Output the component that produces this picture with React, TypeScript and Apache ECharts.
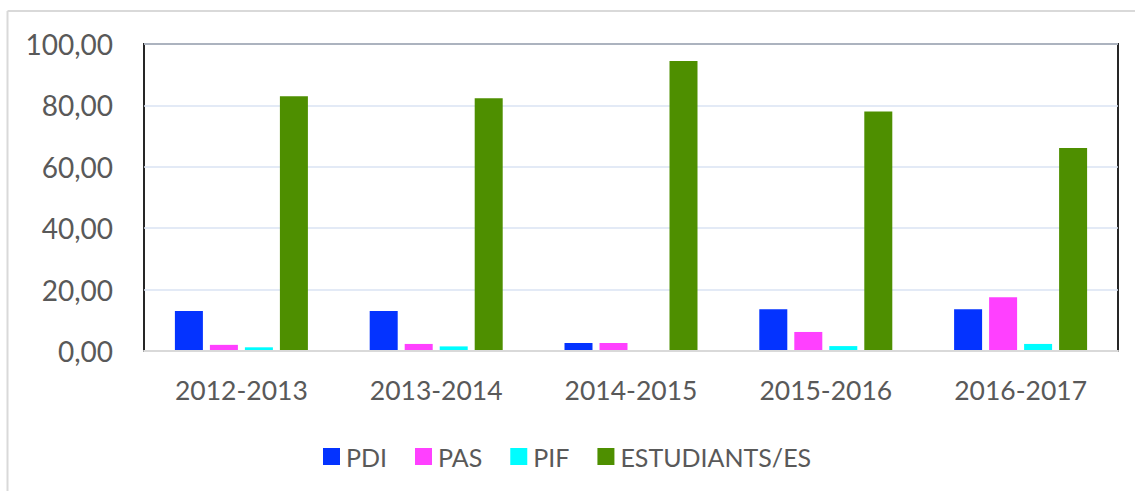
import React, { useEffect, useRef } from "react";
import * as echarts from "echarts";

const categories = ["2012-2013", "2013-2014", "2014-2015", "2015-2016", "2016-2017"];
const seriesNames = ["PDI", "PAS", "PIF", "ESTUDIANTS/ES"];
const pdi = [13.0, 13.0, 2.6, 13.6, 13.6];
const pas = [2.0, 2.3, 2.6, 6.2, 17.5];
const pif = [1.2, 1.5, 0, 1.6, 2.3];
const estudiants = [83.0, 82.3, 94.5, 78.0, 66.1];
const colors = ["#0433FF", "#FF40FF", "#00FDFF", "#4E8F00"];

const FONT = "Lato";

export default function App() {
  const ref = useRef<HTMLDivElement>(null);
  useEffect(() => {
    const chart = echarts.init(ref.current!, undefined, { renderer: "svg" });
    const values = [pdi, pas, pif, estudiants];
    chart.setOption({
      animation: false,
      backgroundColor: "#ffffff",
      textStyle: { fontFamily: FONT },
      graphic: [
        { type: "line", shape: { x1: 7.5, y1: 11, x2: 7.5, y2: 491 }, style: { stroke: "#d9d9d9", lineWidth: 2 } },
        { type: "line", shape: { x1: 7.5, y1: 11, x2: 1135, y2: 11 }, style: { stroke: "#d9d9d9", lineWidth: 2 } },
      ],
      grid: {
        left: 144,
        top: 44,
        right: 17,
        bottom: 140,
        show: true,
        borderColor: "#262626",
        borderWidth: 2,
        backgroundColor: "transparent",
      },
      legend: {
        left: 318,
        top: 439,
        itemWidth: 17,
        itemHeight: 17,
        itemGap: 28,
        icon: "rect",
        textStyle: { fontFamily: FONT, fontSize: 25, color: "#595959", padding: [0, 0, 0, 1] },
        data: seriesNames,
      },
      xAxis: {
        type: "category",
        data: categories,
        axisLine: { show: true, lineStyle: { color: "#d9d9d9", width: 2 } },
        axisTick: { show: false },
        axisLabel: { fontFamily: FONT, fontSize: 26.5, color: "#595959", margin: 25 },
        z: 5,
      },
      yAxis: {
        type: "value",
        min: 0,
        max: 100,
        interval: 20,
        axisLine: { show: false },
        axisTick: { show: false },
        splitLine: { lineStyle: { color: "#DAE3F3", width: 1.5 } },
        axisLabel: {
          fontFamily: FONT,
          fontSize: 28,
          color: "#595959",
          margin: 31,
          formatter: (v: number) => v.toFixed(2).replace(".", ","),
        },
      },
      series: seriesNames.map((name, i) => ({
        name,
        type: "bar",
        data: values[i],
        barWidth: 28,
        barGap: "25%",
        itemStyle: { color: colors[i] },
      })),
    });
    return () => chart.dispose();
  }, []);
  return (
    <div
      ref={ref}
      style={{ position: "absolute", left: 0, top: 0, width: 1135, height: 491 }}
    />
  );
}
